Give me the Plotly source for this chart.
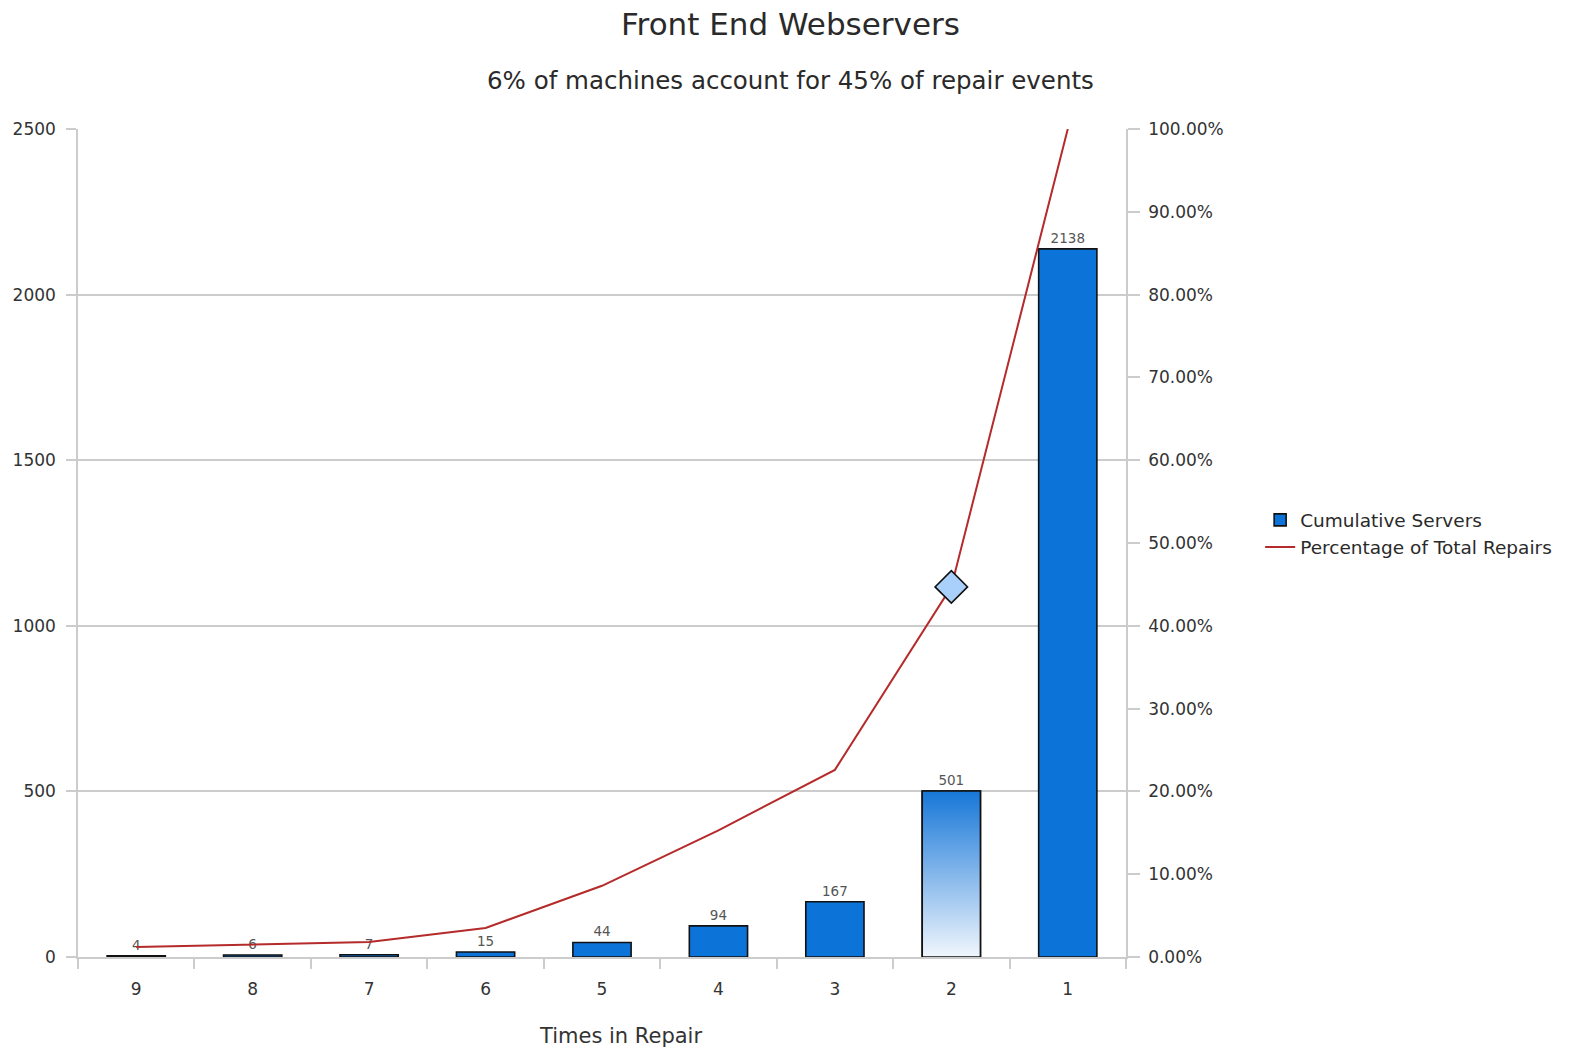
import plotly.graph_objects as go

# Chart data
times_in_repair = ["9", "8", "7", "6", "5", "4", "3", "2", "1"]
cumulative_servers = [4, 6, 7, 15, 44, 94, 167, 501, 2138]
pct_total_repairs = [0.012, 0.015, 0.018, 0.035, 0.086, 0.153, 0.226, 0.447, 1.0]
highlight_index = 7  # the "2 times in repair" point called out in the subtitle

left_ticks = [0, 500, 1000, 1500, 2000, 2500]
right_ticks = [i / 10 for i in range(11)]

BAR_BLUE = "#0c74d9"
BAR_WIDTH = 0.5
FONT = "DejaVu Sans, Liberation Sans, sans-serif"
GRID = "#cccccc"
TEXT = "#2a2a2a"

x_pos = list(range(len(times_in_repair)))

bar_colors = [BAR_BLUE] * len(cumulative_servers)
bar_colors[highlight_index] = "rgba(0,0,0,0)"

fig = go.Figure()

fig.add_trace(go.Bar(
    x=x_pos, y=cumulative_servers, width=BAR_WIDTH,
    name="Cumulative Servers",
    marker=dict(color=bar_colors, line=dict(color="#111111", width=1.6)),
    text=[str(v) for v in cumulative_servers], textposition="outside",
    textfont=dict(size=13.5, color="#555555", family=FONT),
    cliponaxis=False,
))

# Highlighted bar with a vertical gradient fill
hx = x_pos[highlight_index]
hv = cumulative_servers[highlight_index]
fig.add_trace(go.Scatter(
    x=[hx - BAR_WIDTH / 2, hx + BAR_WIDTH / 2, hx + BAR_WIDTH / 2, hx - BAR_WIDTH / 2, hx - BAR_WIDTH / 2],
    y=[0, 0, hv, hv, 0],
    mode="lines", fill="toself",
    fillgradient=dict(type="vertical", colorscale=[[0, "#f0f6fd"], [1, "#1777d8"]]),
    line=dict(color="#111111", width=1.6),
    showlegend=False, hoverinfo="skip",
))

fig.add_trace(go.Scatter(
    x=x_pos, y=pct_total_repairs, yaxis="y2",
    name="Percentage of Total Repairs",
    mode="lines", line=dict(color="#b52a2a", width=2),
    cliponaxis=False,
))

fig.add_trace(go.Scatter(
    x=[hx], y=[pct_total_repairs[highlight_index]], yaxis="y2",
    mode="markers", showlegend=False,
    marker=dict(symbol="diamond", size=25, color="#a9d0fa",
                line=dict(color="#111111", width=1.6)),
    cliponaxis=False,
))

fig.update_layout(
    width=1571, height=1052,
    margin=dict(l=78, r=445, t=129, b=95),
    paper_bgcolor="white", plot_bgcolor="white",
    font=dict(family=FONT, color=TEXT),
    showlegend=True,
    legend=dict(x=1.128, y=0.511, xanchor="left", yanchor="middle",
                font=dict(size=18.5, color=TEXT, family=FONT),
                bgcolor="rgba(0,0,0,0)", tracegroupgap=2, itemwidth=30),
    xaxis=dict(
        range=[-0.5, len(times_in_repair) - 0.5],
        tickvals=x_pos, ticktext=times_in_repair, ticks="",
        tickfont=dict(size=17, color="#333333"),
        ticklabelstandoff=16,
        showgrid=False, zeroline=False,
        showline=True, linecolor=GRID, linewidth=1.5,
        minor=dict(tick0=0.5, dtick=1, ticks="outside", ticklen=10,
                   tickcolor=GRID, tickwidth=1.5, showgrid=False),
    ),
    yaxis=dict(
        range=[0, 2500], tickvals=left_ticks,
        ticks="outside", ticklen=10, tickcolor=GRID, tickwidth=1.5,
        tickfont=dict(size=17, color="#333333"),
        ticklabelstandoff=7,
        showgrid=True, gridcolor=GRID, gridwidth=1.5,
        zeroline=False, showline=True, linecolor=GRID, linewidth=1.5,
    ),
    yaxis2=dict(
        overlaying="y", side="right", range=[0, 1],
        tickvals=right_ticks, tickformat=".2%",
        ticks="outside", ticklen=12, tickcolor=GRID, tickwidth=1.5,
        tickfont=dict(size=17, color="#333333"),
        ticklabelstandoff=5,
        showgrid=False, zeroline=False,
        showline=True, linecolor=GRID, linewidth=1.5,
    ),
    annotations=[
        dict(text="Front End Webservers", xref="paper", yref="paper",
             x=(790 - 78) / 1048, y=(957 - 24) / 828, xanchor="center", yanchor="middle",
             showarrow=False, font=dict(size=31, color=TEXT, family=FONT)),
        dict(text="6% of machines account for 45% of repair events", xref="paper", yref="paper",
             x=(790 - 78) / 1048, y=(957 - 81) / 828, xanchor="center", yanchor="middle",
             showarrow=False, font=dict(size=24.5, color=TEXT, family=FONT)),
        dict(text="Times in Repair", xref="paper", yref="paper",
             x=(620 - 78) / 1048, y=(957 - 1036) / 828, xanchor="center", yanchor="middle",
             showarrow=False, font=dict(size=21, color="#333333", family=FONT)),
    ],
)

fig.write_html("out.html")
